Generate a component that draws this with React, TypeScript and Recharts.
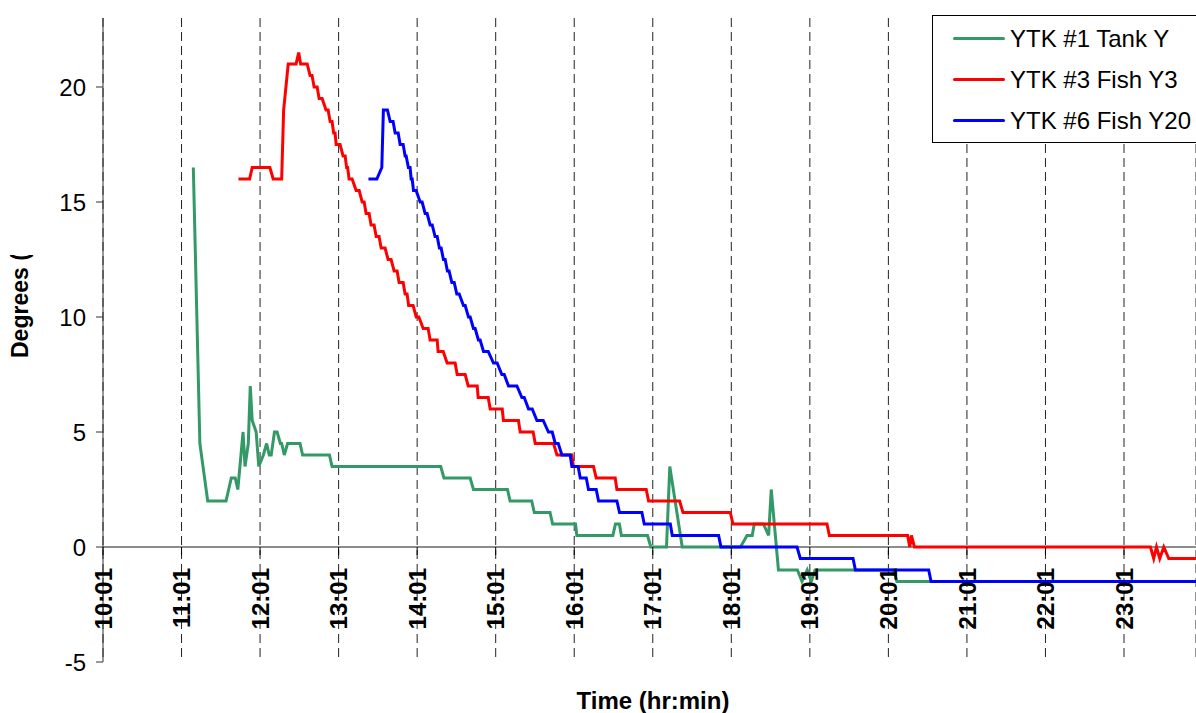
import React from "react";
import { LineChart, Line, XAxis, YAxis, CartesianGrid, ReferenceLine, Legend } from "recharts";

const FONT = "'Liberation Sans', Arial, sans-serif";

// x = minutes after 10:00, y = degrees C
const TANK_Y: [number, number][] = [
  [70, 16.5], [75, 4.5], [81, 2], [95, 2], [99, 3], [102, 3], [104, 2.5], [108, 5],
  [109.5, 3.5], [112, 4.5], [113.5, 7], [115, 5.5], [118, 5], [120, 3.5], [123.5, 4],
  [126, 4.5], [128, 4], [129.5, 4], [132, 5], [134, 5], [136.5, 4.5], [137.5, 4.5],
  [139.5, 4], [142, 4.5], [151.5, 4.5], [153.5, 4], [174, 4], [176, 3.5], [259, 3.5],
  [261.5, 3], [281.5, 3], [284, 2.5], [310, 2.5], [312, 2], [328.5, 2], [330.5, 1.5],
  [342.5, 1.5], [344.5, 1], [362, 1], [363, 0.5], [390.5, 0.5], [392.5, 1], [395.5, 1],
  [397, 0.5], [417, 0.5], [419.5, 0], [431.5, 0], [434, 3.5], [443.5, 0], [488, 0],
  [493, 0.5], [497, 0.5], [498.5, 1], [505.5, 1], [509.5, 0.5], [511.5, 2.5], [517, -1],
  [531.5, -1], [535, -1.5], [539, -1], [542, -1.5], [545, -1], [605, -1], [607.5, -1.5],
  [836, -1.5],
];

const FISH_Y3: [number, number][] = [
  [104.5, 16], [113, 16], [115, 16.5], [128.5, 16.5], [131, 16], [137.5, 16], [139, 19],
  [142.5, 21], [148.5, 21], [150.5, 21.5], [152, 21], [157, 21],
  [159.2, 20.5], [160.7, 20.5], [162.3, 20], [164.6, 20], [166.1, 19.5], [168.4, 19.5],
  [171.4, 19], [173, 19], [174.5, 18.5], [176, 18.5], [177.2, 18], [178.3, 18],
  [179.1, 17.5], [182.1, 17.5], [184.4, 17], [186, 17], [187.1, 16.5], [187.9, 16.5],
  [189, 16], [191.3, 16], [194.4, 15.5], [196.7, 15.5], [199, 15], [200.5, 15],
  [202, 14.5], [204.3, 14.5], [205.8, 14], [208.1, 14], [209.7, 13.5], [211.9, 13.5],
  [213.5, 13], [216.5, 13], [218.8, 12.5], [221.1, 12.5], [223.4, 12], [225.7, 12],
  [227.2, 11.5], [230.3, 11.5], [231.8, 11], [233.3, 11], [234.5, 10.5], [237.9, 10.5],
  [240.3, 10], [242.3, 10], [245.6, 9.5], [249.4, 9.5], [250.9, 9], [256.3, 9],
  [257, 8.5], [260.9, 8.5], [263.9, 8], [270, 8], [271.6, 7.5], [277.7, 7.5],
  [280, 7], [286.9, 7], [287.6, 6.5], [295.3, 6.5], [296.8, 6], [306, 6],
  [306.9, 5.5], [318.4, 5.5], [319.7, 5], [329.6, 5], [331.2, 4.5], [345.2, 4.5],
  [347.8, 4], [359.2, 4], [360.4, 3.5], [375.7, 3.5], [377.8, 3], [392.3, 3],
  [393.6, 2.5], [416, 2.5], [417.8, 2], [441.5, 2], [444.1, 1.5], [480.2, 1.5],
  [482.3, 1], [554.1, 1], [555.9, 0.5], [615.7, 0.5], [617.3, 0], [618.6, 0.5],
  [620.9, 0], [801.2, 0], [803.7, -0.5], [805.8, 0], [808.3, -0.5], [811.4, 0],
  [815.2, -0.5], [836, -0.5],
];

const FISH_Y20: [number, number][] = [
  [203.8, 16], [210.2, 16], [214, 16.5], [215.2, 19], [218.3, 19], [220.4, 18.5],
  [222.6, 18.5], [224.2, 18], [226.5, 18], [228, 17.5], [230.3, 17.5], [231.8, 17],
  [232.6, 17], [234.3, 16.5], [235.6, 16.5], [236.4, 16], [237.2, 16], [238.2, 15.5],
  [240.2, 15.5], [243.3, 15], [244.8, 15], [247.1, 14.5], [248.6, 14.5], [250.9, 14],
  [252.5, 14], [254.7, 13.5], [256.3, 13.5], [258, 13], [259.3, 13], [261.1, 12.5],
  [262.4, 12.5], [264.1, 12], [265.4, 12], [267.5, 11.5], [269.3, 11.5], [271.3, 11],
  [273.1, 11], [276.4, 10.5], [277.7, 10.5], [280.2, 10], [281.5, 10], [284, 9.5],
  [285.3, 9.5], [287.8, 9], [289.1, 9], [291.7, 8.5], [295.3, 8.5], [299.3, 8],
  [302.1, 8], [305.7, 7.5], [307.5, 7.5], [310.8, 7], [317.2, 7], [321, 6.5],
  [322.8, 6.5], [326.1, 6], [328.9, 6], [332.5, 5.5], [337.3, 5.5], [341.3, 5],
  [344.2, 5], [346.5, 4.5], [348.8, 4.5], [351.6, 4], [357.9, 4], [359.2, 3.5],
  [364, 3.5], [365.6, 3], [370.2, 3], [371.9, 2.5], [377.8, 2.5], [379.6, 2],
  [393.6, 2], [395.6, 1.5], [412.7, 1.5], [414.5, 1], [434.4, 1], [435.9, 0.5],
  [471.3, 0.5], [473.1, 0], [531.2, 0], [533.7, -0.5], [574, -0.5], [575.8, -1],
  [631.8, -1], [633.6, -1.5], [836, -1.5],
];

const SERIES_NAMES = ["YTK #1 Tank Y", "YTK #3 Fish Y3", "YTK #6 Fish Y20"];
const SERIES_COLORS = ["#339966", "#ff0000", "#0000ff"];

const HOUR_TICKS = [1, 61, 121, 181, 241, 301, 361, 421, 481, 541, 601, 661, 721, 781];
const HOUR_LABELS = ["10:01", "11:01", "12:01", "13:01", "14:01", "15:01", "16:01", "17:01", "18:01", "19:01", "20:01", "21:01", "22:01", "23:01"];
const Y_TICKS = [-5, 0, 5, 10, 15, 20];
const X_DOMAIN: [number, number] = [1, 836];
const Y_DOMAIN: [number, number] = [-5, 23];

const PLOT_TOP = 18;
const PLOT_BOTTOM = 662;
const ZERO_Y = PLOT_TOP + ((Y_DOMAIN[1] - 0) / (Y_DOMAIN[1] - Y_DOMAIN[0])) * (PLOT_BOTTOM - PLOT_TOP);

const toPoints = (rows: [number, number][]) => rows.map(([t, v]) => ({ t, v }));
const seriesData = [TANK_Y, FISH_Y3, FISH_Y20].map(toPoints);

// time labels sit under the zero line, rotated
function TimeTick({ x, payload }: any) {
  const label = HOUR_LABELS[HOUR_TICKS.indexOf(payload.value)];
  const ty = ZERO_Y + 21;
  return (
    <g>
      <line x1={x} x2={x} y1={ZERO_Y} y2={ZERO_Y + 8} stroke="#000" />
      <text
        x={x}
        y={ty}
        transform={`rotate(-90, ${x}, ${ty})`}
        textAnchor="end"
        dy="0.36em"
        fontFamily={FONT}
        fontWeight="bold"
        fontSize={24}
        fill="#000"
      >
        {label}
      </text>
    </g>
  );
}

function XTitle() {
  return (
    <text x={653} y={709} textAnchor="middle" fontFamily={FONT} fontWeight="bold" fontSize={24} fill="#000">
      Time (hr:min)
    </text>
  );
}

// the reference cuts the title off after "Degrees ("
function YTitle() {
  return (
    <g clipPath="url(#ytitleClip)">
      <defs>
        <clipPath id="ytitleClip" clipPathUnits="userSpaceOnUse">
          <rect x={0} y={255} width={60} height={200} />
        </clipPath>
      </defs>
      <text
        x={28}
        y={358}
        transform="rotate(-90, 28, 358)"
        textAnchor="start"
        fontFamily={FONT}
        fontWeight="bold"
        fontSize={23}
        fill="#000"
      >
        Degrees (C)
      </text>
    </g>
  );
}

function LegendBox({ payload }: any) {
  return (
    <div
      style={{
        width: 290,
        height: 128,
        border: "1px solid #000",
        background: "#fff",
        boxSizing: "border-box",
        paddingTop: 2,
        fontFamily: FONT,
      }}
    >
      {(payload || []).map((p: any) => (
        <div key={p.value} style={{ height: 41, display: "flex", alignItems: "center" }}>
          <span style={{ display: "inline-block", width: 52, height: 3, marginLeft: 20, background: p.color, borderRadius: 2 }} />
          <span style={{ marginLeft: 5, fontSize: 24, color: "#000", lineHeight: 1, whiteSpace: "nowrap" }}>{p.value}</span>
        </div>
      ))}
    </div>
  );
}

export default function App() {
  return (
    <div style={{ position: "fixed", left: 0, top: 0, width: 1196, height: 713, overflow: "hidden", background: "#fff" }}>
      <LineChart width={1196} height={713} margin={{ top: PLOT_TOP, right: 0, left: 0, bottom: 0 }}>
        <CartesianGrid horizontal={false} vertical stroke="#222" strokeDasharray="9 5" />
        <XAxis
          type="number"
          dataKey="t"
          domain={X_DOMAIN}
          ticks={HOUR_TICKS}
          allowDataOverflow
          axisLine={false}
          tickLine={false}
          tick={<TimeTick />}
          height={51}
          label={{ content: <XTitle /> }}
        />
        <YAxis
          type="number"
          domain={Y_DOMAIN}
          ticks={Y_TICKS}
          allowDataOverflow
          width={103}
          tickSize={7}
          tickMargin={10}
          axisLine={{ stroke: "#333" }}
          tickLine={{ stroke: "#333" }}
          tick={{ fontSize: 24, fill: "#000", fontFamily: FONT }}
          label={{ content: <YTitle /> }}
        />
        <ReferenceLine y={0} stroke="#666" strokeWidth={1.5} />
        <Legend
          layout="vertical"
          align="center"
          verticalAlign="middle"
          wrapperStyle={{ left: 932, top: 15, width: 290 }}
          content={<LegendBox />}
        />
        {seriesData.map((d, i) => (
          <Line
            key={SERIES_NAMES[i]}
            data={d}
            dataKey="v"
            name={SERIES_NAMES[i]}
            stroke={SERIES_COLORS[i]}
            strokeWidth={3}
            dot={false}
            activeDot={false}
            type="linear"
            isAnimationActive={false}
          />
        ))}
      </LineChart>
    </div>
  );
}
